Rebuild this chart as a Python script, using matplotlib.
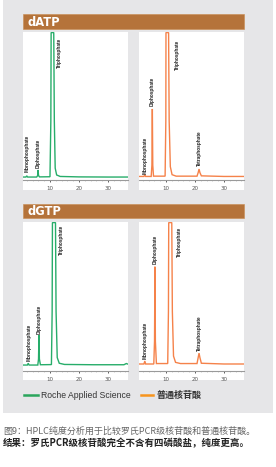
import matplotlib
matplotlib.use("Agg")
import matplotlib.pyplot as plt
from matplotlib.patches import Rectangle
from matplotlib.lines import Line2D

W, H = 276, 467
GREEN = '#27ad6a'
ORANGE = '#f5824a'
HEADER = '#b5733a'
BG = '#e6e6e8'

# ---------------- data (retention time in min, detector signal in %) -------------
xticks = [10, 20, 30]
xtick_labels = ['10', '20', '30']

datp_roche_t = [0.7, 1.7, 2.0, 2.3, 5.4, 5.75, 5.9, 6.05, 6.4, 10.0, 10.3, 10.4, 11.3, 11.5, 11.8, 12.3, 13.5, 20, 30, 36.9]
datp_roche_y = [2.0, 2.0, 2.8, 2.0, 2.0, 3.0, 6.8, 3.0, 2.1, 2.2, 40, 99.6, 99.6, 40, 8.0, 3.4, 2.4, 2.1, 2.0, 2.0]

datp_std_t = [0.7, 2.4, 2.7, 3.0, 4.9, 5.15, 5.3, 5.45, 5.7, 9.7, 9.95, 10.0, 10.9, 11.1, 11.5, 12.1, 13.5, 20.7, 21.1, 21.4, 21.7, 22.2, 30, 36.9]
datp_std_y = [2.4, 2.4, 3.6, 2.4, 2.4, 10, 48, 10, 2.6, 2.6, 40, 99.6, 99.6, 40, 9.0, 3.6, 2.6, 2.6, 5.0, 7.4, 5.0, 2.8, 2.4, 2.4]

dgtp_roche_t = [0.7, 2.2, 2.5, 2.8, 5.8, 6.05, 6.2, 6.35, 6.7, 10.5, 10.75, 10.85, 11.9, 12.1, 12.5, 13.2, 15, 25, 35.5, 36.3, 36.9]
dgtp_roche_y = [4.0, 4.0, 5.2, 4.0, 4.0, 8.0, 24, 8.0, 4.2, 4.3, 40, 99.6, 99.6, 40, 9.0, 5.2, 4.4, 4.2, 4.2, 5.0, 4.6]

dgtp_std_t = [0.7, 2.4, 2.7, 3.0, 5.8, 6.05, 6.2, 6.35, 6.7, 10.6, 10.85, 10.95, 12.0, 12.2, 12.6, 13.3, 15, 20.7, 21.1, 21.4, 21.7, 22.2, 30, 36.9]
dgtp_std_y = [4.7, 4.7, 6.7, 4.7, 4.7, 20, 70, 20, 5.0, 5.0, 40, 99.6, 99.6, 40, 10, 5.8, 5.0, 5.0, 9.0, 12, 9.0, 5.2, 4.7, 4.7]

# peak annotations: (label, time, bottom of text in signal units)
datp_roche_labels = [('Monophosphate', 2.0, 5.4), ('Diphosphate', 5.9, 8.1), ('Triphosphate', 13.4, 76)]
datp_std_labels = [('Monophosphate', 2.7, 4.0), ('Diphosphate', 5.1, 50), ('Triphosphate', 13.8, 74), ('Tetraphosphate', 21.4, 9.5)]
dgtp_roche_labels = [('Monophosphate', 2.8, 6.5), ('Diphosphate', 6.2, 25), ('Triphosphate', 13.8, 78)]
dgtp_std_labels = [('Monophosphate', 2.8, 8.0), ('Diphosphate', 6.2, 72), ('Triphosphate', 14.8, 76.5), ('Tetraphosphate', 21.4, 13.5)]

headers = ['dATP', 'dGTP']
legend_labels = ['Roche Applied Science', '普通核苷酸']
caption1 = '图9：HPLC纯度分析用于比较罗氏PCR级核苷酸和普通核苷酸。'
caption2 = '结果：罗氏PCR级核苷酸完全不含有四磷酸盐，纯度更高。'

# ---------------------------------------------------------------------------------
fig = plt.figure(figsize=(W / 100, H / 100), dpi=100)
fig.patch.set_facecolor('white')


def fx(x):
    return x / W


def fy(y):
    return 1 - y / H


def frect(x0, y0, x1, y1, **kw):
    fig.patches.append(Rectangle((fx(x0), fy(y1)), fx(x1) - fx(x0), fy(y0) - fy(y1),
                                 transform=fig.transFigure, **kw))


# grey background panel
frect(3, 0, 273, 413, facecolor=BG, edgecolor='none', zorder=0)

# headers
for name, (y0, y1) in zip(headers, [(14, 29), (204, 218)]):
    frect(23, y0, 244, y1, facecolor=HEADER, edgecolor='#c98a50', linewidth=0.4, zorder=1)
    fig.text(fx(28), fy((y0 + y1) / 2 + 0.5), name, color='white', fontsize=8.3,
             fontweight='bold', family='DejaVu Sans', va='center', ha='left', zorder=2)

panels = [
    (23, 128, 32, 190, 180, datp_roche_t, datp_roche_y, GREEN, datp_roche_labels),
    (139, 244, 32, 190, 180, datp_std_t, datp_std_y, ORANGE, datp_std_labels),
    (23, 128, 222, 380, 371, dgtp_roche_t, dgtp_roche_y, GREEN, dgtp_roche_labels),
    (139, 244, 222, 380, 371, dgtp_std_t, dgtp_std_y, ORANGE, dgtp_std_labels),
]

for (x0, x1, y0, y1, yaxis, t, s, col, labels) in panels:
    frect(x0, y0, x1, y1, facecolor='white', edgecolor='none', zorder=1)
    ax = fig.add_axes([fx(x0), fy(yaxis), fx(x1) - fx(x0), fy(y0) - fy(yaxis)])
    ax.set_facecolor('none')
    ax.set_zorder(3)
    ax.plot(t, s, color=col, linewidth=1.0, solid_joinstyle='miter')
    ax.set_xlim(0.7, 36.9)
    ax.set_ylim(0, 100)
    for sp in ['top', 'right', 'left']:
        ax.spines[sp].set_visible(False)
    ax.spines['bottom'].set_color('#9a9a9a')
    ax.spines['bottom'].set_linewidth(0.8)
    ax.set_yticks([])
    ax.set_xticks(xticks)
    ax.set_xticklabels(xtick_labels)
    ax.set_xticks(range(2, 37, 2), minor=True)
    ax.tick_params(axis='x', which='major', length=1.6, width=0.6, color='#444444',
                   pad=2.5, labelsize=4, labelcolor='#555555')
    ax.tick_params(axis='x', which='minor', length=0.8, width=0.4, color='#aaaaaa')
    for lab, lt, lb in labels:
        ax.text(lt, lb, lab, rotation=90, fontsize=3.4, family='Liberation Sans',
                fontweight='bold', color='#222222', ha='center', va='bottom')

# legend
fig.lines.append(Line2D([fx(24), fx(38)], [fy(395), fy(395)], color='#2aa55c', linewidth=1.8,
                        transform=fig.transFigure))
fig.text(fx(40.5), fy(395), legend_labels[0], fontsize=6.2, family='Liberation Sans',
         color='#333333', va='center', ha='left')
fig.lines.append(Line2D([fx(141), fx(153)], [fy(395), fy(395)], color='#f7941d', linewidth=1.8,
                        transform=fig.transFigure))
fig.text(fx(157), fy(395), legend_labels[1], fontsize=6.5, family=['Noto Sans CJK SC', 'DejaVu Sans'],
         fontweight='bold', color='#333333', va='center', ha='left')

# captions
fig.text(fx(3), fy(431), caption1, fontsize=6.5, family=['Noto Sans CJK SC', 'DejaVu Sans'],
         color='#666666', va='center', ha='left')
fig.text(fx(3), fy(443.5), caption2, fontsize=6.8, family=['Noto Sans CJK SC', 'DejaVu Sans'],
         fontweight='bold', color='#222222', va='center', ha='left')

fig.savefig('out.png', dpi=100, facecolor='white')
